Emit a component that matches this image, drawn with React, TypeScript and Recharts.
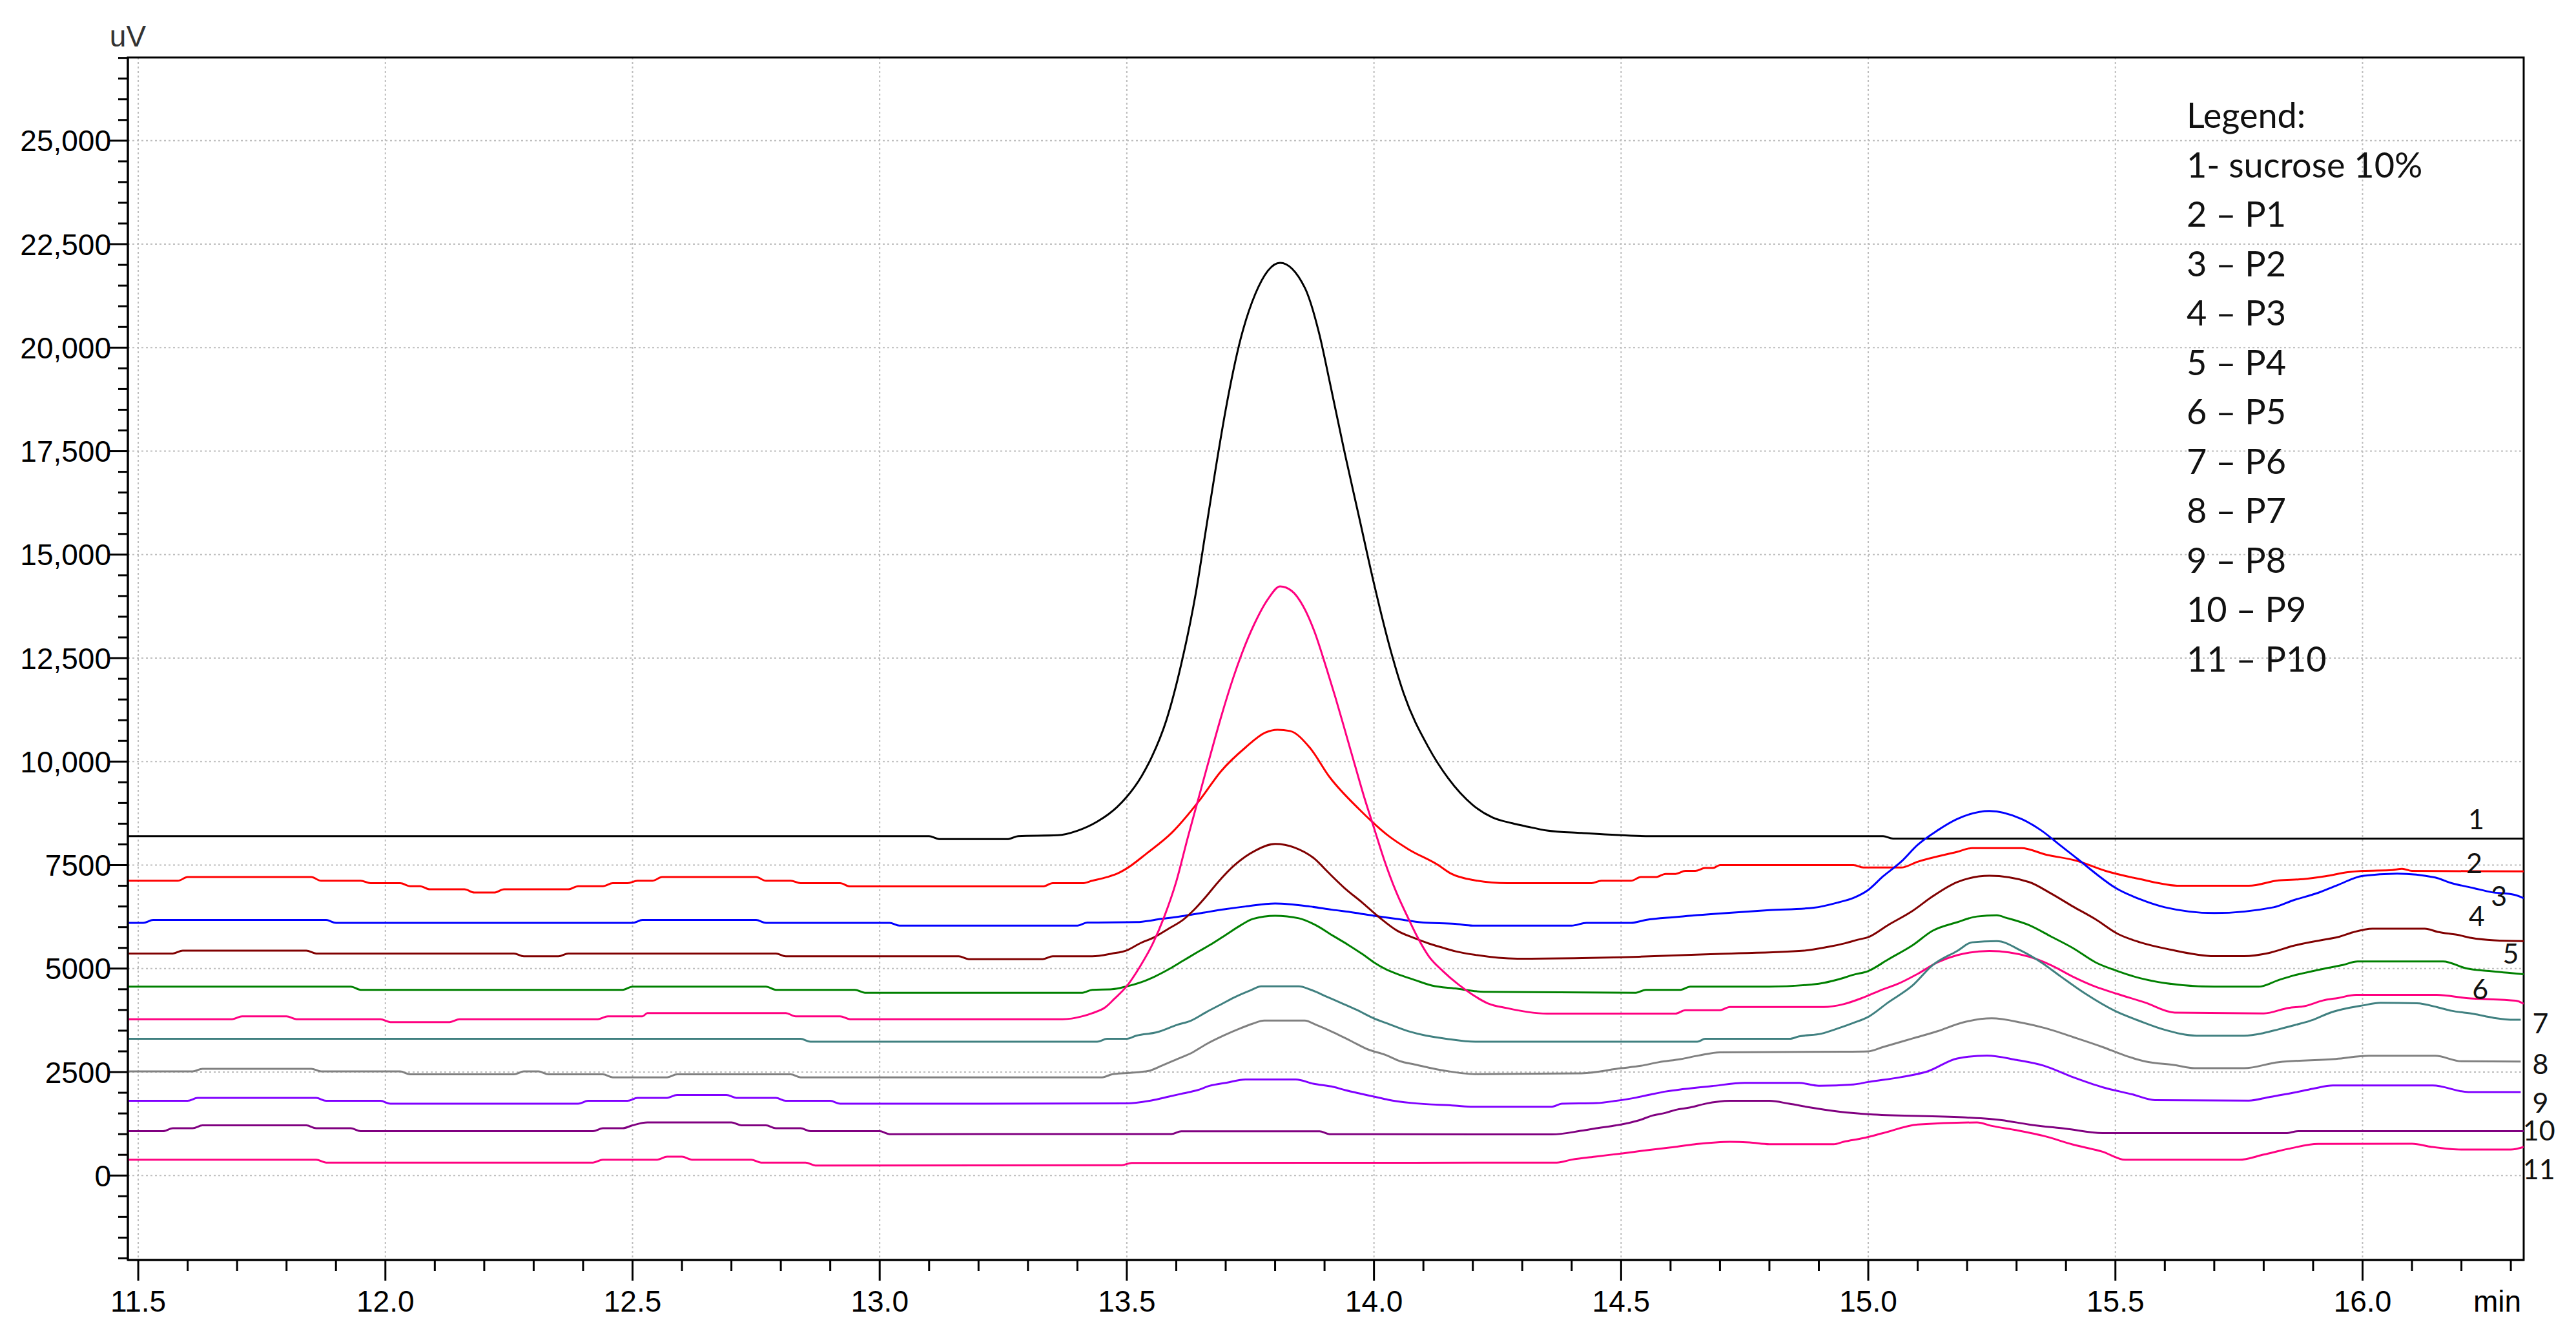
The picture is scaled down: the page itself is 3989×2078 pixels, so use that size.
import React from 'react'
import { LineChart, Line, XAxis, YAxis, CartesianGrid, ReferenceArea, ReferenceDot } from 'recharts'

type Pt = [number, number]

// retention time (min), signal (uV)
const s1: Pt[] = [
  [11.479, 8200], [13.1, 8200], [13.12, 8130], [13.26, 8130], [13.28, 8200], [13.36, 8220], [13.4, 8330],
  [13.44, 8550], [13.48, 8900], [13.5, 9150], [13.53, 9650], [13.55, 10100], [13.58, 11000], [13.61, 12350],
  [13.64, 14100], [13.66, 15600], [13.68, 17100], [13.7, 18500], [13.73, 20200], [13.76, 21300], [13.81, 22050],
  [13.86, 21450], [13.89, 20300], [13.91, 19200], [13.94, 17500], [13.97, 15900], [14.0, 14300], [14.03, 12850],
  [14.06, 11650], [14.11, 10350], [14.15, 9600], [14.2, 8950], [14.24, 8650], [14.28, 8510], [14.31, 8430],
  [14.35, 8335], [14.42, 8275], [14.56, 8200], [15.03, 8200], [15.05, 8140], [16.326, 8140],
]
const s2: Pt[] = [
  [11.479, 7121], [11.58, 7121], [11.6, 7210], [11.85, 7210], [11.87, 7121], [11.95, 7121], [11.97, 7062],
  [12.03, 7062], [12.05, 6990], [12.07, 6990], [12.09, 6914], [12.16, 6914], [12.18, 6837], [12.22, 6837],
  [12.24, 6914], [12.37, 6914], [12.39, 6990], [12.44, 6990], [12.46, 7062], [12.49, 7062], [12.51, 7121],
  [12.54, 7121], [12.56, 7210], [12.75, 7210], [12.77, 7121], [12.82, 7121], [12.84, 7062], [12.92, 7062],
  [12.94, 6985], [13.33, 6985], [13.35, 7062], [13.41, 7062], [13.43, 7121], [13.46, 7210], [13.48, 7290],
  [13.5, 7420], [13.54, 7780], [13.59, 8270], [13.65, 9110], [13.69, 9760], [13.74, 10340], [13.78, 10700],
  [13.805, 10770], [13.83, 10740], [13.87, 10340], [13.91, 9630], [13.97, 8850], [14.03, 8200], [14.07, 7880],
  [14.13, 7500], [14.155, 7300], [14.2, 7140], [14.27, 7062], [14.44, 7062], [14.46, 7121], [14.52, 7121],
  [14.54, 7210], [14.57, 7210], [14.59, 7287], [14.61, 7287], [14.63, 7358], [14.65, 7358], [14.67, 7429],
  [14.686, 7429], [14.7, 7500], [14.97, 7500], [14.99, 7440], [15.066, 7440], [15.1, 7580], [15.18, 7820],
  [15.21, 7910], [15.31, 7910], [15.36, 7750], [15.42, 7610], [15.48, 7360], [15.55, 7160], [15.63, 7000],
  [15.77, 7000], [15.83, 7130], [15.88, 7160], [15.925, 7231], [15.97, 7327], [16.0, 7359], [16.06, 7380],
  [16.08, 7410], [16.1, 7360], [16.326, 7350],
]
const s3: Pt[] = [
  [11.479, 6103], [11.51, 6103], [11.53, 6174], [11.88, 6174], [11.9, 6103], [12.5, 6103], [12.52, 6174],
  [12.75, 6174], [12.77, 6103], [13.02, 6103], [13.04, 6038], [13.4, 6038], [13.42, 6110], [13.52, 6122],
  [13.57, 6200], [13.617, 6277], [13.657, 6355], [13.697, 6432], [13.74, 6500], [13.8, 6572], [13.87, 6500],
  [13.915, 6422], [13.958, 6355], [14.0, 6277], [14.045, 6200], [14.1, 6110], [14.164, 6080], [14.2, 6038],
  [14.4, 6038], [14.43, 6103], [14.52, 6103], [14.55, 6174], [14.61, 6245], [14.69, 6322], [14.8, 6411],
  [14.89, 6470], [14.94, 6600], [14.97, 6707], [15.0, 6900], [15.03, 7228], [15.066, 7575], [15.1, 7990],
  [15.14, 8337], [15.18, 8614], [15.245, 8808], [15.31, 8614], [15.35, 8337], [15.387, 7990], [15.424, 7644],
  [15.46, 7297], [15.5, 6950], [15.55, 6674], [15.6, 6480], [15.7, 6340], [15.82, 6480], [15.86, 6650],
  [15.91, 6830], [15.95, 7020], [16.0, 7240], [16.07, 7295], [16.147, 7199], [16.178, 7071], [16.225, 6943],
  [16.26, 6847], [16.307, 6783], [16.326, 6700],
]
const s4: Pt[] = [
  [11.479, 5363], [11.57, 5363], [11.59, 5434], [11.84, 5434], [11.86, 5363], [12.26, 5363], [12.28, 5298],
  [12.35, 5298], [12.37, 5363], [12.79, 5363], [12.81, 5298], [13.16, 5298], [13.18, 5227], [13.33, 5227],
  [13.35, 5298], [13.43, 5298], [13.47, 5363], [13.5, 5440], [13.526, 5605], [13.556, 5760], [13.585, 5967],
  [13.614, 6180], [13.637, 6432], [13.661, 6750], [13.684, 7080], [13.72, 7520], [13.76, 7850], [13.8, 8010],
  [13.84, 7920], [13.88, 7650], [13.906, 7340], [13.94, 6950], [13.977, 6587], [14.012, 6225], [14.047, 5915],
  [14.082, 5734], [14.111, 5605], [14.14, 5501], [14.164, 5420], [14.205, 5330], [14.29, 5240], [14.536, 5286],
  [14.7, 5357], [14.87, 5434], [14.918, 5523], [14.953, 5611], [14.98, 5700], [15.0, 5759], [15.04, 6050],
  [15.09, 6397], [15.13, 6743], [15.18, 7090], [15.245, 7242], [15.325, 7090], [15.37, 6812], [15.414, 6500],
  [15.46, 6189], [15.504, 5842], [15.55, 5634], [15.61, 5461], [15.7, 5300], [15.76, 5300], [15.81, 5375],
  [15.86, 5550], [15.915, 5683], [15.95, 5760], [15.98, 5875], [16.02, 5964], [16.126, 5964], [16.152, 5887],
  [16.194, 5810], [16.22, 5740], [16.266, 5683], [16.326, 5663],
]
const s5: Pt[] = [
  [11.479, 4564], [11.93, 4564], [11.95, 4487], [12.48, 4487], [12.5, 4564], [12.77, 4564], [12.79, 4487],
  [12.95, 4487], [12.97, 4416], [13.41, 4416], [13.43, 4487], [13.47, 4500], [13.5, 4571], [13.53, 4674],
  [13.556, 4804], [13.585, 4984], [13.614, 5191], [13.643, 5398], [13.673, 5605], [13.7, 5812], [13.73, 6044],
  [13.755, 6200], [13.8, 6277], [13.848, 6215], [13.883, 6044], [13.918, 5786], [13.947, 5579], [13.977, 5346],
  [14.0, 5150], [14.023, 4990], [14.047, 4870], [14.082, 4726], [14.117, 4590], [14.164, 4519], [14.222, 4440],
  [14.53, 4416], [14.55, 4487], [14.62, 4487], [14.64, 4564], [14.8, 4564], [14.9, 4635], [14.94, 4740],
  [14.97, 4850], [15.0, 4941], [15.04, 5219], [15.09, 5565], [15.13, 5912], [15.18, 6120], [15.22, 6258],
  [15.26, 6286], [15.28, 6223], [15.325, 6050], [15.37, 5773], [15.414, 5496], [15.46, 5149], [15.504, 4941],
  [15.55, 4768], [15.6, 4650], [15.7, 4562], [15.79, 4562], [15.83, 4722], [15.86, 4831], [15.89, 4915],
  [15.925, 5005], [15.96, 5087], [15.99, 5171], [16.163, 5171], [16.21, 5005], [16.256, 4940], [16.326, 4864],
]
const s6: Pt[] = [
  [11.479, 3776], [11.69, 3776], [11.71, 3847], [11.8, 3847], [11.82, 3776], [11.99, 3776], [12.01, 3705],
  [12.13, 3705], [12.15, 3776], [12.43, 3776], [12.45, 3847], [12.52, 3847], [12.53, 3923], [12.81, 3923],
  [12.83, 3847], [12.92, 3847], [12.94, 3776], [13.37, 3776], [13.41, 3847], [13.43, 3923], [13.456, 4060],
  [13.474, 4260], [13.5, 4577], [13.526, 5036], [13.553, 5614], [13.576, 6262], [13.6, 7100], [13.623, 8150],
  [13.647, 9200], [13.67, 10200], [13.69, 11050], [13.716, 12050], [13.734, 12650], [13.757, 13300],
  [13.787, 13950], [13.81, 14232], [13.834, 14120], [13.857, 13750], [13.88, 13130], [13.904, 12250],
  [13.922, 11550], [13.945, 10600], [13.963, 9850], [13.98, 9150], [14.0, 8400], [14.02, 7650], [14.045, 6850],
  [14.07, 6200], [14.088, 5760], [14.111, 5295], [14.14, 4933], [14.17, 4623], [14.2, 4364], [14.23, 4161],
  [14.27, 4043], [14.31, 3953], [14.35, 3912], [14.61, 3912], [14.63, 3995], [14.7, 3995], [14.72, 4072],
  [14.91, 4072], [14.95, 4140], [14.99, 4300], [15.03, 4500], [15.06, 4630], [15.1, 4872], [15.14, 5149],
  [15.18, 5323], [15.245, 5426], [15.325, 5288], [15.37, 5080], [15.414, 4803], [15.46, 4560], [15.504, 4387],
  [15.56, 4179], [15.62, 3936], [15.8, 3916], [15.85, 4050], [15.884, 4096], [15.92, 4230], [15.95, 4288],
  [15.987, 4364], [16.15, 4364], [16.21, 4288], [16.31, 4224], [16.326, 4150],
]
const s7: Pt[] = [
  [11.479, 3303], [12.84, 3303], [12.86, 3232], [13.44, 3232], [13.46, 3303], [13.5, 3304], [13.52, 3382],
  [13.56, 3459], [13.602, 3640], [13.63, 3744], [13.661, 3950], [13.69, 4131], [13.719, 4312], [13.749, 4467],
  [13.772, 4571], [13.848, 4571], [13.871, 4493], [13.906, 4312], [13.936, 4157], [13.965, 4002], [14.0, 3795],
  [14.023, 3692], [14.07, 3485], [14.105, 3382], [14.146, 3304], [14.205, 3232], [14.654, 3232], [14.67, 3302],
  [14.84, 3302], [14.86, 3361], [14.906, 3430], [14.935, 3539], [14.97, 3687], [15.0, 3832], [15.04, 4179],
  [15.09, 4595], [15.13, 5080], [15.18, 5426], [15.21, 5634], [15.26, 5662], [15.31, 5426], [15.35, 5149],
  [15.39, 4803], [15.44, 4387], [15.5, 3971], [15.55, 3729], [15.6, 3520], [15.664, 3379], [15.76, 3379],
  [15.8, 3443], [15.83, 3532], [15.863, 3635], [15.9, 3763], [15.935, 3936], [15.97, 4045], [16.0, 4109],
  [16.036, 4173], [16.11, 4160], [16.152, 4064], [16.18, 3980], [16.225, 3904], [16.266, 3808], [16.307, 3763],
  [16.32, 3763],
]
const s8: Pt[] = [
  [11.479, 2515], [11.61, 2515], [11.63, 2580], [11.85, 2580], [11.87, 2515], [12.03, 2515], [12.05, 2444],
  [12.26, 2444], [12.28, 2515], [12.31, 2515], [12.33, 2444], [12.44, 2444], [12.46, 2373], [12.57, 2373],
  [12.59, 2444], [12.82, 2444], [12.84, 2373], [13.45, 2373], [13.47, 2444], [13.5, 2477], [13.544, 2528],
  [13.57, 2650], [13.602, 2813], [13.632, 2968], [13.661, 3175], [13.696, 3382], [13.731, 3563], [13.754, 3666],
  [13.778, 3744], [13.86, 3744], [13.883, 3640], [13.918, 3459], [13.953, 3253], [13.988, 3046], [14.023, 2916],
  [14.053, 2761], [14.082, 2683], [14.111, 2606], [14.14, 2540], [14.205, 2451], [14.42, 2470], [14.5, 2592],
  [14.54, 2651], [14.577, 2740], [14.62, 2811], [14.657, 2900], [14.7, 2977], [14.95, 2990], [15.0, 3000],
  [15.03, 3105], [15.09, 3313], [15.14, 3486], [15.19, 3694], [15.25, 3798], [15.31, 3694], [15.36, 3555],
  [15.414, 3347], [15.474, 3105], [15.52, 2897], [15.56, 2758], [15.62, 2668], [15.66, 2592], [15.76, 2592],
  [15.83, 2739], [15.946, 2816], [16.013, 2893], [16.147, 2893], [16.2, 2760], [16.32, 2752],
]
const s9: Pt[] = [
  [11.479, 1805], [11.6, 1805], [11.62, 1876], [11.86, 1876], [11.88, 1805], [11.99, 1805], [12.01, 1734],
  [12.39, 1734], [12.41, 1805], [12.49, 1805], [12.51, 1876], [12.57, 1876], [12.59, 1947], [12.69, 1947],
  [12.71, 1876], [12.79, 1876], [12.81, 1805], [12.9, 1805], [12.92, 1734], [13.5, 1743], [13.55, 1815],
  [13.585, 1907], [13.614, 1985], [13.643, 2063], [13.667, 2166], [13.702, 2244], [13.74, 2321], [13.842, 2321],
  [13.877, 2218], [13.918, 2140], [13.942, 2063], [13.97, 1985], [14.0, 1907], [14.029, 1830], [14.076, 1753],
  [14.164, 1690], [14.2, 1663], [14.36, 1663], [14.38, 1734], [14.45, 1750], [14.49, 1805], [14.53, 1882],
  [14.56, 1959], [14.59, 2030], [14.627, 2089], [14.683, 2160], [14.75, 2237], [14.86, 2237], [14.9, 2169],
  [14.97, 2200], [15.0, 2260], [15.066, 2377], [15.12, 2516], [15.18, 2828], [15.24, 2897], [15.3, 2793],
  [15.355, 2654], [15.414, 2377], [15.474, 2134], [15.534, 1961], [15.58, 1823], [15.77, 1810], [15.81, 1892],
  [15.86, 2000], [15.9, 2099], [15.94, 2176], [16.142, 2176], [16.214, 2016], [16.32, 2016],
]
const s10: Pt[] = [
  [11.479, 1071], [11.55, 1071], [11.57, 1142], [11.61, 1142], [11.63, 1213], [11.84, 1213], [11.86, 1142],
  [11.93, 1142], [11.95, 1071], [12.42, 1071], [12.44, 1142], [12.48, 1142], [12.5, 1213], [12.53, 1284],
  [12.7, 1284], [12.72, 1213], [12.77, 1213], [12.79, 1142], [12.84, 1142], [12.86, 1071], [13.0, 1071],
  [13.02, 1000], [13.59, 1003], [13.61, 1070], [13.89, 1070], [13.91, 1000], [14.36, 994], [14.42, 1083],
  [14.45, 1142], [14.49, 1213], [14.52, 1284], [14.54, 1349], [14.56, 1438], [14.59, 1515], [14.61, 1586],
  [14.64, 1645], [14.67, 1734], [14.72, 1805], [14.8, 1805], [14.84, 1734], [14.88, 1650], [14.94, 1546],
  [15.01, 1476], [15.19, 1407], [15.27, 1338], [15.325, 1234], [15.4, 1130], [15.474, 1025], [15.845, 1025],
  [15.87, 1074], [16.326, 1074],
]
const s11: Pt[] = [
  [11.479, 384], [11.86, 384], [11.88, 313], [12.42, 313], [12.44, 384], [12.55, 384], [12.57, 455],
  [12.6, 455], [12.62, 384], [12.74, 384], [12.76, 313], [12.85, 313], [12.87, 242], [13.49, 250],
  [13.51, 305], [14.37, 313], [14.4, 384], [14.45, 461], [14.5, 532], [14.55, 609], [14.6, 680], [14.65, 757],
  [14.72, 816], [14.76, 800], [14.8, 757], [14.93, 757], [14.95, 816], [14.99, 905], [15.03, 1025],
  [15.1, 1234], [15.22, 1282], [15.25, 1199], [15.3, 1095], [15.355, 957], [15.414, 749], [15.474, 575],
  [15.52, 381], [15.75, 381], [15.8, 506], [15.85, 645], [15.91, 763], [16.1, 768], [16.14, 691],
  [16.2, 627], [16.3, 627], [16.326, 691],
]

const seriesData = [s1, s2, s3, s4, s5, s6, s7, s8, s9, s10, s11]
const seriesNames = ['sucrose 10%', 'P1', 'P2', 'P3', 'P4', 'P5', 'P6', 'P7', 'P8', 'P9', 'P10']
const seriesColors = ['#000000', '#ff0000', '#0000ff', '#800000', '#008000', '#ff0080', '#408080', '#808080', '#8000ff', '#800080', '#ff0080']

// where the trace numbers sit, in data units
const tagT = [16.23, 16.226, 16.276, 16.231, 16.3, 16.238, 16.36, 16.36, 16.36, 16.357, 16.357]
const tagV = [8600, 7540, 6740, 6260, 5363, 4500, 3680, 2690, 1753, 1081, 146]

const legendLines = [
  'Legend:', '1- sucrose 10%', '2 – P1', '3 – P2', '4 – P3', '5 – P4', '6 – P5',
  '7 – P6', '8 – P7', '9 – P8', '10 – P9', '11 – P10',
]

const xMajor = [11.5, 12.0, 12.5, 13.0, 13.5, 14.0, 14.5, 15.0, 15.5, 16.0]
const yMajor = [0, 2500, 5000, 7500, 10000, 12500, 15000, 17500, 20000, 22500, 25000]
const xTicks = Array.from({ length: 49 }, (_, i) => Math.round(115 + i) / 10)
const yTicks = Array.from({ length: 59 }, (_, i) => -2000 + i * 500)

const X_DOMAIN: [number, number] = [11.479, 16.326]
const Y_DOMAIN: [number, number] = [-2040, 27010]

const W = 3989
const H = 2078
const AXIS_FONT = '"Liberation Sans", Arial, sans-serif'
const TEXT_FONT = 'Lato, "Open Sans", sans-serif'

const fmtY = (v: number) => (v >= 10000 ? v.toLocaleString('en-US') : String(v))

function XTick(props: any) {
  const { x, y, payload } = props
  const v = payload.value as number
  const major = Math.abs(v * 2 - Math.round(v * 2)) < 1e-6
  return (
    <g>
      <line x1={x} x2={x} y1={y} y2={y + (major ? 32 : 17)} stroke="#000" strokeWidth={3} />
      {major && (
        <text x={x} y={y + 80} textAnchor="middle" fontSize={46} fontFamily={AXIS_FONT} fill="#000">
          {v.toFixed(1)}
        </text>
      )}
    </g>
  )
}

function YTick(props: any) {
  const { x, y, payload } = props
  const v = payload.value as number
  const major = v % 2500 === 0 && v >= 0 && v <= 25000
  return (
    <g>
      <line x1={x - (major ? 28 : 15)} x2={x} y1={y} y2={y} stroke="#000" strokeWidth={3} />
      {major && (
        <text x={x - 26} y={y} dy="0.36em" textAnchor="end" fontSize={46} fontFamily={AXIS_FONT} fill="#000">
          {fmtY(v)}
        </text>
      )}
    </g>
  )
}

export default function App() {
  return (
    <div style={{ position: 'absolute', left: 0, top: 0, width: W, height: H, background: '#fff' }}>
      <LineChart width={W} height={H} margin={{ top: 89, right: 81, bottom: 27, left: 18 }}>
        <CartesianGrid
          stroke="#bdbdbd"
          strokeWidth={2}
          strokeDasharray="3 4"
          horizontalValues={yMajor}
          verticalValues={xMajor}
        />
        <XAxis
          type="number"
          dataKey="t"
          domain={X_DOMAIN}
          allowDataOverflow
          ticks={xTicks}
          interval={0}
          tick={<XTick />}
          tickLine={false}
          tickSize={0}
          tickMargin={0}
          height={100}
          axisLine={{ stroke: '#000', strokeWidth: 3 }}
          label={{
            content: (p: any) => {
              const vb = p.viewBox
              return (
                <text x={vb.x + vb.width - 41} y={vb.y + 80} textAnchor="middle" fontSize={46} fontFamily={AXIS_FONT} fill="#000">
                  min
                </text>
              )
            },
          }}
        />
        <YAxis
          type="number"
          domain={Y_DOMAIN}
          allowDataOverflow
          ticks={yTicks}
          interval={0}
          tick={<YTick />}
          tickLine={false}
          tickSize={0}
          tickMargin={0}
          width={180}
          axisLine={{ stroke: '#000', strokeWidth: 3 }}
          label={{
            content: (p: any) => {
              const vb = p.viewBox
              return (
                <text x={vb.x + vb.width} y={vb.y - 17} textAnchor="middle" fontSize={46} fontFamily={AXIS_FONT} fill="#333">
                  uV
                </text>
              )
            },
          }}
        />

        {seriesData.map((pts, i) => (
          <Line
            key={seriesNames[i]}
            name={seriesNames[i]}
            data={pts.map(([t, v]) => ({ t, v }))}
            dataKey="v"
            type="monotone"
            stroke={seriesColors[i]}
            strokeWidth={3}
            dot={false}
            activeDot={false}
            isAnimationActive={false}
          />
        ))}

        <ReferenceArea
          x1={X_DOMAIN[0]}
          x2={X_DOMAIN[1]}
          y1={Y_DOMAIN[0]}
          y2={Y_DOMAIN[1]}
          fill="none"
          fillOpacity={0}
          stroke="#000"
          strokeWidth={3}
          ifOverflow="visible"
        />

        {tagT.map((t, i) => (
          <ReferenceDot
            key={`tag${i}`}
            x={t}
            y={tagV[i]}
            r={0}
            fill="none"
            stroke="none"
            ifOverflow="visible"
            label={{ value: String(i + 1), position: 'center', fontSize: 43, fill: '#111', fontFamily: TEXT_FONT }}
          />
        ))}
      </LineChart>

      <div
        style={{
          position: 'absolute',
          left: 3386,
          top: 140,
          fontFamily: TEXT_FONT,
          fontSize: 54,
          lineHeight: '76.5px',
          color: '#111',
          whiteSpace: 'pre',
        }}
      >
        {legendLines.map((l) => (
          <div key={l}>{l}</div>
        ))}
      </div>
    </div>
  )
}
